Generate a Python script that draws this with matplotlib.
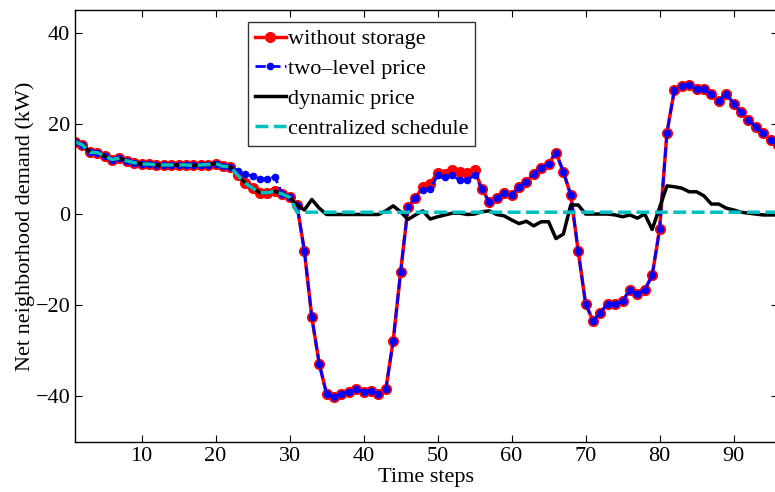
import numpy as np
import matplotlib
matplotlib.use("Agg")
import matplotlib.pyplot as plt

plt.rcParams['font.family'] = ['Liberation Serif', 'DejaVu Serif']
plt.rcParams['mathtext.fontset'] = 'stix'

steps = np.arange(1, 97)

without_storage = [
    16.0, 15.3, 13.7, 13.6, 12.9, 12.1, 12.4, 11.8, 11.4, 11.1,
    11.1, 10.9, 10.9, 10.9, 10.9, 10.9, 10.8, 10.9, 11.0, 11.2,
    10.6, 10.5, 8.6, 6.9, 5.8, 4.8, 4.8, 5.1, 4.5, 3.8,
    2.0, -8.0, -22.6, -32.8, -39.5, -40.2, -39.4, -39.0, -38.4, -39.0,
    -38.8, -39.5, -38.5, -27.8, -12.7, 1.6, 3.7, 6.0, 6.8, 9.2,
    9.0, 9.7, 9.3, 9.1, 9.8, 5.6, 2.7, 3.7, 4.7, 4.2,
    6.1, 7.2, 8.9, 10.3, 11.2, 13.6, 9.4, 4.3, -8.0, -19.6,
    -23.4, -21.6, -19.6, -19.8, -19.0, -16.6, -17.4, -16.6, -13.4, -3.3,
    18.0, 27.4, 28.2, 28.4, 27.6, 27.6, 26.5, 25.0, 26.6, 24.4,
    22.5, 20.8, 19.3, 18.0, 16.3, 15.2,
]

two_level = list(without_storage)
two_level[22:28] = [9.5, 8.8, 8.5, 7.8, 7.8, 8.3]
two_level[47:55] = [5.4, 5.6, 8.6, 8.3, 8.6, 7.5, 7.6, 8.6]

dynamic = list(without_storage[:30]) + [
    2.0, 1.0, 3.3, 1.4, 0.0, 0.0, 0.0, 0.0, 0.0, 0.0,
    0.0, 0.0, 0.8, 1.9, 0.6, -1.1, -0.1, 0.8, -1.0, -0.5,
    -0.1, 0.3, 0.3, 0.0, 0.1, 0.6, 0.8, 0.0, -0.3, -1.2,
    -2.0, -1.5, -2.5, -1.6, -1.6, -5.3, -4.3, 2.1, 2.1, 0.1,
    0.1, 0.1, 0.1, -0.1, -0.5, -0.1, -0.8, 0.1, -3.3, 1.5,
    6.3, 6.1, 5.8, 5.0, 5.0, 4.1, 2.3, 2.3, 1.4, 1.0,
    0.5, 0.3, 0.1, -0.1, -0.1, -0.1,
]

centralized = list(without_storage[:30]) + [0.5] * 66

fig = plt.figure(figsize=(7.75, 4.92), dpi=100)
ax = fig.add_axes([0.0968, 0.1022, 0.907, 0.8775])

ax.plot(steps, without_storage, '-o', color='red', lw=2.5, ms=7,
        mfc='red', mec='red', label='without storage')
ax.plot(steps, two_level, '--o', color='blue', lw=2, ms=4.5,
        mfc='blue', mec='blue', label='two\u2013level price')
ax.plot(steps, dynamic, '-', color='black', lw=2.5, label='dynamic price')
ax.plot(steps, centralized, '--', color=(0, 0.75, 0.75), lw=2.5,
        label='centralized schedule')

ax.set_xlim(1, 96)
ax.set_ylim(-50, 45)
ax.set_xticks(range(10, 100, 10))
ax.set_yticks(range(-40, 41, 20))
ax.tick_params(direction='in', top=True, right=True, labelsize=16, length=5)
for s in ax.spines.values():
    s.set_linewidth(1)

ax.set_xlabel('Time steps', fontsize=16, labelpad=2)
ax.set_ylabel('Net neighborhood demand (kW)', fontsize=16, labelpad=0)

leg = ax.legend(loc='upper left', bbox_to_anchor=(0.246, 0.972), fontsize=16,
                frameon=True, fancybox=False, edgecolor='black', numpoints=1,
                handlelength=1.4, handletextpad=0.1, labelspacing=0.42,
                borderpad=0.3, borderaxespad=0)
leg.get_frame().set_linewidth(1)

fig.savefig('out.png', dpi=100)
